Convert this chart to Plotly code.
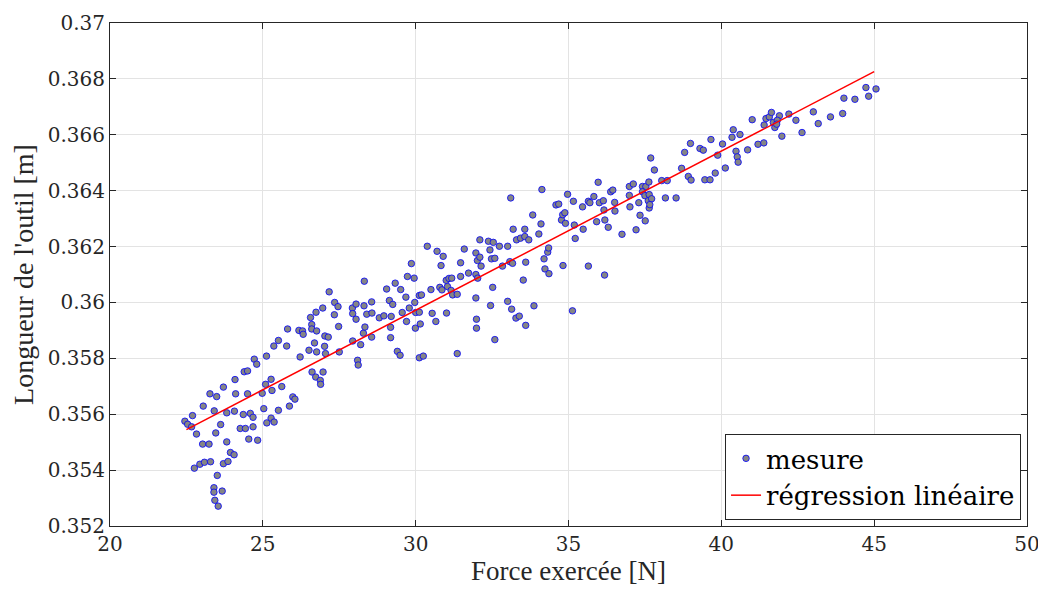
import plotly.graph_objects as go

force = [
    22.45, 22.54, 22.67, 22.70, 22.83, 23.05, 23.27, 23.49, 23.71, 23.41,
    23.62, 23.46, 23.82, 24.07, 24.09, 24.11, 23.82, 23.03, 23.24, 22.76,
    22.94, 23.09, 23.29, 23.71, 23.86, 23.94, 24.06, 23.51, 23.40, 23.40,
    23.67, 23.43, 23.54, 24.39, 24.50, 24.72, 24.80, 25.12, 25.36, 24.36,
    24.59, 24.68, 24.26, 24.43, 24.68, 24.54, 24.83, 24.50, 24.98, 25.09,
    25.27, 25.30, 25.03, 25.13, 25.27, 25.37,
    25.51, 25.51, 25.62, 25.78, 25.81, 25.87, 25.98, 26.05, 26.18, 26.30,
    26.32, 26.22, 26.51, 26.56, 26.60, 26.60, 26.76, 26.69, 26.74, 26.96,
    26.76, 26.61, 26.73, 26.88, 26.89, 26.97, 27.03, 27.14, 27.02, 27.05,
    27.17, 27.35, 27.46, 27.34, 27.48, 27.50, 27.93, 27.94, 28.05, 28.05,
    27.94, 28.10, 28.12, 28.20, 28.29, 28.34, 28.32, 28.31, 28.40, 28.56,
    28.57, 28.56,
    28.81, 28.96, 29.05, 29.14, 29.25, 29.20, 29.18, 29.18, 29.33, 29.40,
    29.49, 29.51, 29.56, 29.68, 29.70, 29.73, 29.79, 29.86, 29.95, 29.97,
    30.00, 30.12, 29.99, 30.15, 30.12, 30.19, 30.12, 30.25, 30.38, 30.50,
    30.54, 30.66, 30.70, 30.79, 30.86, 30.83, 30.90, 31.00, 31.04, 31.09,
    31.18, 31.16, 31.21, 31.36, 31.01, 31.36, 31.47, 31.47, 31.59, 31.73,
    31.97, 32.02, 32.10, 32.14, 31.97, 32.03, 31.97, 31.99, 31.99, 32.10,
    32.38, 32.54, 32.43, 32.48, 32.59, 32.52, 32.45, 32.59, 32.74, 32.84,
    33.01, 33.01, 33.11, 33.08, 33.17, 33.14, 33.19, 33.28, 33.39, 33.30,
    33.43, 33.57, 33.57, 33.70, 33.52, 33.60, 33.60, 33.83, 33.87, 34.03,
    34.10, 34.13, 34.20, 34.23, 34.36, 34.32, 34.35, 34.59, 34.68, 34.77,
    34.81, 34.88, 34.90, 34.82, 34.97, 35.16, 35.19, 35.13, 35.22,
    35.48, 35.46, 35.65, 35.70, 35.65, 35.83, 35.92, 35.97, 36.01, 36.14,
    36.16, 36.19, 36.18, 36.30, 36.38, 36.45, 36.51, 36.52, 36.75, 36.99,
    37.12, 36.99, 37.01, 37.21, 37.30, 37.34, 37.42, 37.53, 37.63, 37.42,
    37.50, 37.64, 37.51, 37.61, 37.72, 37.64, 37.66, 37.69, 37.81, 38.05,
    38.23, 38.17,
    38.52, 38.70, 38.80, 38.92, 39.01, 38.99, 39.30, 39.41, 39.46, 39.63,
    39.66, 39.80, 39.88, 40.04, 40.13, 40.35, 40.39, 40.48, 40.52, 40.55,
    40.61, 40.86, 41.01, 41.20, 41.39, 41.40, 41.46, 41.57, 41.64, 41.70,
    41.75,
    41.90, 41.83, 41.81, 41.98, 42.21, 42.44, 42.64, 43.01, 43.17, 43.57,
    43.97, 44.01, 44.37, 44.73, 44.82, 45.06,
]

longueur = [
    0.35575, 0.35564, 0.35555, 0.35595, 0.35529, 0.35629, 0.35673, 0.35663, 0.35697, 0.35612,
    0.35563, 0.35533, 0.35605, 0.35611, 0.35724, 0.35673, 0.35501, 0.35493, 0.35493, 0.35407,
    0.35421, 0.35428, 0.35430, 0.35423, 0.35431, 0.35463, 0.35455, 0.35381, 0.35337, 0.35321,
    0.35325, 0.35292, 0.35271, 0.35752, 0.35755, 0.35797, 0.35779, 0.35808, 0.35844, 0.35599,
    0.35603, 0.35589, 0.35549, 0.35549, 0.35555, 0.35511, 0.35507, 0.35673, 0.35675, 0.35707,
    0.35725, 0.35685, 0.35620, 0.35569, 0.35586, 0.35572,
    0.35614, 0.35864, 0.35699, 0.35844, 0.35905, 0.35629, 0.35662, 0.35654, 0.35900, 0.35898,
    0.35886, 0.35805, 0.35829, 0.35946, 0.35921, 0.35905, 0.35898, 0.35855, 0.35965, 0.35980,
    0.35823, 0.35751, 0.35733, 0.35721, 0.35707, 0.35751, 0.35880, 0.35876, 0.35843, 0.35817,
    0.36038, 0.36000, 0.35985, 0.35956, 0.35914, 0.35823, 0.35980, 0.35960, 0.35940, 0.35994,
    0.35862, 0.35793, 0.35776, 0.35849, 0.35890, 0.35912, 0.36076, 0.35988, 0.35958, 0.36002,
    0.35962, 0.35876,
    0.35945, 0.35952, 0.36048, 0.36007, 0.35993, 0.35950, 0.35911, 0.35874, 0.36069, 0.35825,
    0.35811, 0.36046, 0.35964, 0.36019, 0.35932, 0.36093, 0.35980, 0.36139, 0.36087, 0.36000,
    0.35964, 0.35965, 0.35908, 0.35923, 0.36025, 0.36027, 0.35802, 0.35808, 0.36201, 0.36046,
    0.35961, 0.35932, 0.36183, 0.36054, 0.36045, 0.36132, 0.36165, 0.36079, 0.36057, 0.36086,
    0.36087, 0.36043, 0.36027, 0.36029, 0.35962, 0.35817, 0.36142, 0.36093, 0.36191, 0.36105,
    0.36177, 0.36150, 0.36162, 0.36130, 0.36100, 0.36087, 0.36016, 0.35940, 0.35908, 0.36224,
    0.36219, 0.36215, 0.36188, 0.36156, 0.36158, 0.36054, 0.35989, 0.35867, 0.36201, 0.36130,
    0.36201, 0.36004, 0.36374, 0.36146, 0.36140, 0.35976, 0.36262, 0.35944, 0.35951, 0.36224,
    0.36230, 0.36236, 0.36262, 0.36224, 0.36080, 0.36144, 0.35918, 0.36313, 0.35988, 0.36245,
    0.36281, 0.36404, 0.36156, 0.36120, 0.36103, 0.36180, 0.36195, 0.36349, 0.36352, 0.36295,
    0.36314, 0.36321, 0.36283, 0.36132, 0.36387, 0.36362, 0.36277, 0.35970, 0.36229,
    0.36262, 0.36342, 0.36362, 0.36357, 0.36130, 0.36379, 0.36289, 0.36430, 0.36357, 0.36364,
    0.36331, 0.36295, 0.36098, 0.36269, 0.36396, 0.36402, 0.36358, 0.36327, 0.36244, 0.36415,
    0.36424, 0.36383, 0.36342, 0.36260, 0.36357, 0.36312, 0.36415, 0.36415, 0.36431, 0.36396,
    0.36382, 0.36386, 0.36292, 0.36364, 0.36371, 0.36338, 0.36350, 0.36517, 0.36474, 0.36436,
    0.36436, 0.36374,
    0.36374, 0.36480, 0.36537, 0.36451, 0.36438, 0.36569, 0.36551, 0.36545, 0.36439, 0.36439,
    0.36583, 0.36463, 0.36527, 0.36567, 0.36481, 0.36591, 0.36618, 0.36541, 0.36521, 0.36502,
    0.36601, 0.36546, 0.36654, 0.36566, 0.36571, 0.36635, 0.36658, 0.36664, 0.36680, 0.36644,
    0.36626,
    0.36668, 0.36652, 0.36638, 0.36595, 0.36674, 0.36652, 0.36608, 0.36682, 0.36640, 0.36664,
    0.36676, 0.36731, 0.36727, 0.36769, 0.36738, 0.36764,
]

# Linear regression line endpoints
reg_force = [22.5, 45.0]
reg_longueur = [0.35545, 0.36826]

x_ticks = [20, 25, 30, 35, 40, 45, 50]
y_ticks = [0.352, 0.354, 0.356, 0.358, 0.36, 0.362, 0.364, 0.366, 0.368, 0.37]
y_ticktext = ["0.352", "0.354", "0.356", "0.358", "0.36", "0.362", "0.364", "0.366", "0.368", "0.37"]

SERIF = "Liberation Serif, DejaVu Serif, serif"
AXC = "#262626"

fig = go.Figure()
fig.add_trace(go.Scatter(
    x=force, y=longueur, mode="markers", name="mesure",
    marker=dict(size=6.5, color="#858585", symbol="circle",
                line=dict(color="rgba(0,0,255,0.8)", width=1)),
))
fig.add_trace(go.Scatter(
    x=reg_force, y=reg_longueur, mode="lines", name="régression linéaire",
    line=dict(color="#ff0000", width=1.5),
))

axis_common = dict(
    showgrid=True, gridcolor="#e3e3e3", gridwidth=1,
    showline=True, linecolor=AXC, linewidth=1, mirror="ticks",
    ticks="inside", ticklen=6, tickcolor=AXC,
    zeroline=False, automargin=False,
    tickfont=dict(family="DejaVu Serif, serif", size=20, color=AXC),
)

fig.update_xaxes(
    range=[20, 50], tickvals=x_ticks, ticktext=[str(v) for v in x_ticks],
    title=dict(text="Force exercée [N]", font=dict(family=SERIF, size=27, color=AXC), standoff=4),
    **axis_common,
)
fig.update_yaxes(
    range=[0.352, 0.37], tickvals=y_ticks, ticktext=y_ticktext,
    title=dict(text="Longueur de l'outil [m]", font=dict(family=SERIF, size=28, color=AXC), standoff=6),
    **axis_common,
)

fig.update_layout(
    width=1038, height=582,
    margin=dict(l=102, r=19, t=14.5, b=63.5),
    paper_bgcolor="white", plot_bgcolor="white",
    showlegend=True,
    legend=dict(
        x=0.9935, y=0.012, xanchor="right", yanchor="bottom",
        bgcolor="white", bordercolor=AXC, borderwidth=1,
        font=dict(family="DejaVu Serif, serif", size=26, color="black"),
        itemsizing="trace", tracegroupgap=0,
    ),
)

fig.write_html("out.html")
